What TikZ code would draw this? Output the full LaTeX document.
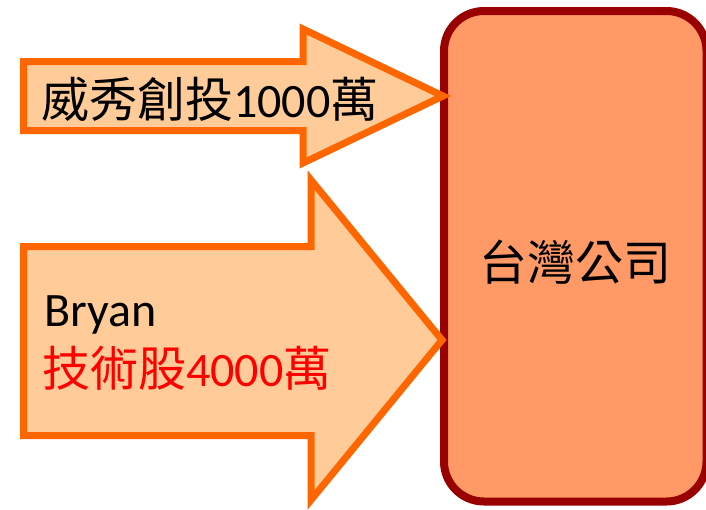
\documentclass[tikz,border=0pt]{standalone}
\usepackage{fontspec}
\setmainfont{Carlito}
\newfontfamily\cjk{Noto Sans CJK TC}
\usepackage{tikz}

\definecolor{arrowline}{HTML}{FF6600}
\definecolor{arrowfill}{HTML}{FFCC99}
\definecolor{boxline}{HTML}{990000}
\definecolor{boxfill}{HTML}{FF9966}

\begin{document}
\begin{tikzpicture}[x=1pt,y=-1pt,
        bigarrow/.style={draw=arrowline,fill=arrowfill,line width=7pt,miter limit=10},
        company/.style={draw=boxline,fill=boxfill,line width=8pt,rounded corners=40pt,
            minimum width=262.5pt,minimum height=490.5pt,inner sep=0pt},
        txt/.style={font=\fontsize{48}{58}\selectfont,inner sep=0pt,anchor=base west}]
        % Fix the page size
        \useasboundingbox (0,0) rectangle (706,509);

        % Company box
        \node[company] (taiwan) at (575.25,256.25) {};
        \node[txt,anchor=center] (taiwanname) at ([yshift=-6pt]taiwan.center) {\cjk 台灣公司};

        % Top arrow (cash)
        \draw[bigarrow] (23.5,61.5) -- (303,61.5) -- (303,29) -- (443,96)
            -- (303,163) -- (303,130.5) -- (23.5,130.5) -- cycle;
        \node[txt] (cash) at (41,117) {{\cjk 威秀創投}1000{\cjk 萬}};

        % Bottom arrow (shares)
        \draw[bigarrow] (23.5,246.5) -- (311,246.5) -- (311,180) -- (442,340)
            -- (311,500) -- (311,435.5) -- (23.5,435.5) -- cycle;
        \node[txt] (bryan) at (44,326.7) {Bryan};
        \node[txt,text=red] (shares) at (42,386.7) {{\cjk 技術股}4000{\cjk 萬}};
\end{tikzpicture}
\end{document}
